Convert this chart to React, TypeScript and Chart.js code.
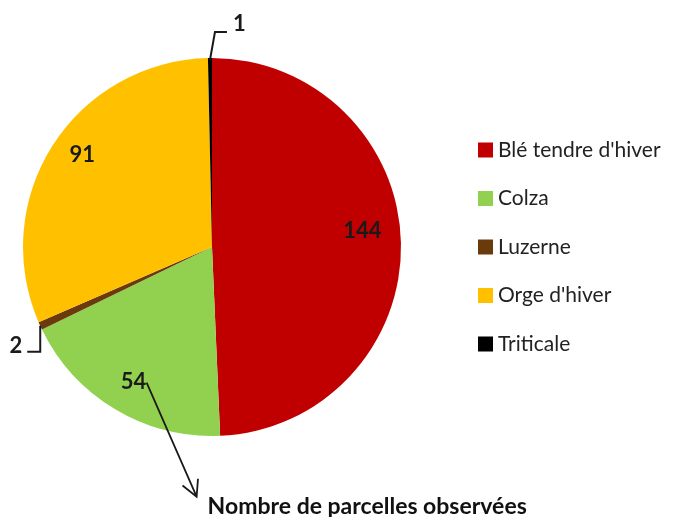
import React, { useEffect, useRef } from "react";
import { Chart, registerables } from "chart.js";

Chart.register(...registerables);

const categories = ["Blé tendre d'hiver", "Colza", "Luzerne", "Orge d'hiver", "Triticale"];
const counts = [144, 54, 2, 91, 1];
const colors = ["#C00000", "#92D050", "#6B3A0C", "#FFC000", "#000000"];
const title = "Nombre de parcelles observées";

const FONT = "Lato, 'Open Sans', sans-serif";

const overlayPlugin = {
  id: "overlay",
  afterDraw(chart: any) {
    const ctx: CanvasRenderingContext2D = chart.ctx;
    const meta = chart.getDatasetMeta(0);
    const arcs = meta.data;
    const pt = (i: number, rf: number) => {
      const a: any = arcs[i];
      const mid = (a.startAngle + a.endAngle) / 2;
      const r = a.outerRadius * rf;
      return { x: a.x + Math.cos(mid) * r, y: a.y + Math.sin(mid) * r };
    };
    ctx.save();
    ctx.fillStyle = "#1a1a1a";
    ctx.strokeStyle = "#1a1a1a";
    ctx.font = `bold 22px ${FONT}`;
    ctx.textAlign = "center";
    ctx.textBaseline = "middle";
    // inside labels: [index, radius fraction, dx, dy]
    const inside: [number, number, number, number][] = [
      [0, 0.79, 1, -13],
      [3, 0.79, -4, -11],
      [1, 0.83, 2, 0],
    ];
    inside.forEach(([i, rf, dx, dy]) => {
      const p = pt(i, rf);
      ctx.fillText(String(counts[i]), p.x + dx, p.y + dy);
    });

    ctx.lineWidth = 2;
    // Luzerne leader
    {
      const p = pt(2, 1);
      ctx.beginPath();
      ctx.moveTo(p.x, p.y);
      ctx.lineTo(p.x, p.y + 26);
      ctx.lineTo(p.x - 13, p.y + 26);
      ctx.stroke();
      ctx.textAlign = "right";
      ctx.textBaseline = "alphabetic";
      ctx.fillText(String(counts[2]), p.x - 18, p.y + 27);
    }
    // Triticale leader
    {
      const p = pt(4, 1);
      ctx.beginPath();
      ctx.moveTo(p.x, p.y + 2);
      ctx.lineTo(p.x + 5, p.y - 26);
      ctx.lineTo(p.x + 17, p.y - 26);
      ctx.stroke();
      ctx.textAlign = "left";
      ctx.textBaseline = "alphabetic";
      ctx.fillText(String(counts[4]), p.x + 23, p.y - 27);
    }
    // arrow from Colza label to title
    {
      const p = pt(1, 0.83);
      const x0 = p.x + 15, y0 = p.y + 1;
      const x1 = p.x + 65, y1 = p.y + 115;
      ctx.lineWidth = 1.8;
      ctx.beginPath();
      ctx.moveTo(x0, y0);
      ctx.lineTo(x1, y1);
      const ang = Math.atan2(y0 - y1, x0 - x1);
      const L = 18, sp = (28 * Math.PI) / 180;
      ctx.moveTo(x1 + Math.cos(ang - sp) * L, y1 + Math.sin(ang - sp) * L);
      ctx.lineTo(x1, y1);
      ctx.lineTo(x1 + Math.cos(ang + sp) * L, y1 + Math.sin(ang + sp) * L);
      ctx.stroke();
      ctx.font = `bold 23px ${FONT}`;
      ctx.textAlign = "left";
      ctx.textBaseline = "alphabetic";
      ctx.fillStyle = "#111";
      ctx.fillText(title, x1 + 11, y1 + 17);
    }
    // legend
    {
      const lx = 478, ly0 = 150, step = 48.5, box = 15;
      ctx.font = `21px ${FONT}`;
      ctx.textAlign = "left";
      ctx.textBaseline = "middle";
      categories.forEach((c, i) => {
        const y = ly0 + i * step;
        ctx.fillStyle = colors[i];
        ctx.fillRect(lx, y - box / 2, box, box);
        ctx.fillStyle = "#222";
        ctx.fillText(c, lx + 20, y);
      });
    }
    ctx.restore();
  },
};

export default function App() {
  const ref = useRef<HTMLCanvasElement | null>(null);
  useEffect(() => {
    if (!ref.current) return;
    const chart = new Chart(ref.current, {
      type: "pie",
      data: {
        labels: categories,
        datasets: [
          {
            data: counts,
            backgroundColor: colors,
            borderWidth: 0,
          },
        ],
      },
      options: {
        responsive: false,
        animation: false,
        layout: { padding: { left: 23, top: 58, right: 293, bottom: 81 } },
        plugins: {
          legend: { display: false },
          tooltip: { enabled: false },
        },
      },
      plugins: [overlayPlugin],
    });
    return () => chart.destroy();
  }, []);
  return (
    <div style={{ position: "absolute", left: 0, top: 0, width: 694, height: 517, background: "#fff" }}>
      <canvas ref={ref} width={694} height={517} />
    </div>
  );
}
